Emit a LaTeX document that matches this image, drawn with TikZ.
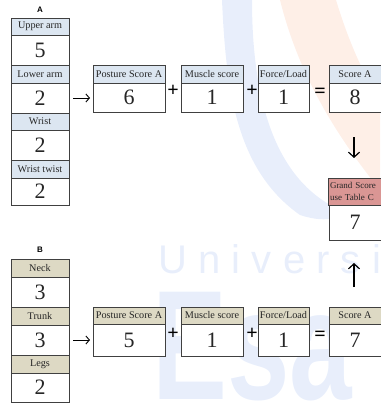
\documentclass[tikz,border=0pt]{standalone}
\usepackage{fontspec}
\setmainfont{Liberation Serif}
\setsansfont{Liberation Sans}
\usetikzlibrary{arrows.meta}

\definecolor{hdrblue}{HTML}{DCE6F1}
\definecolor{hdrtan}{HTML}{DDD9C4}
\definecolor{hdrrose}{HTML}{DA9694}
\definecolor{gridline}{HTML}{404040}
\definecolor{marklogo}{HTML}{3F74E0}
\definecolor{marksun}{HTML}{F47A3C}

% cell from corner (x1,y1) to (x2,y2): name, x1, y1, x2, y2, style, text
\newcommand\mkcell[7]{%
  \pgfmathsetmacro\mcX{(#2+#4)/2}\pgfmathsetmacro\mcY{(#3+#5)/2}%
  \pgfmathsetmacro\mcW{#4-#2}\pgfmathsetmacro\mcH{#5-#3}%
  \node[#6,minimum width=\mcW pt,minimum height=\mcH pt] (#1) at (\mcX,\mcY) {#7};}

\begin{document}
\begin{tikzpicture}[x=1pt,y=-1pt,
  cell/.style={draw=gridline,line width=0.8pt,inner sep=0pt,outer sep=0pt,text=black!85},
  hdr/.style={cell,font=\fontsize{10.2}{10.2}\selectfont},
  hdra/.style={hdr,fill=hdrblue},
  hdrb/.style={hdr,fill=hdrtan},
  val/.style={cell,fill=white,font=\fontsize{22}{22}\selectfont},
  colhead/.style={font=\sffamily\bfseries\fontsize{8}{8}\selectfont},
  op/.style={font=\bfseries\fontsize{20}{20}\selectfont,inner sep=0pt},
  arr/.style={-{Straight Barb[length=3.5pt,width=8pt]},line width=0.9pt},
  varr/.style={-{Straight Barb[length=5pt,width=11pt]},line width=1.2pt}]
\useasboundingbox (0,0) rectangle (380,404);

% faint watermark behind the sheet
\begin{scope}[opacity=0.12]
  \fill[marklogo] (222,0) .. controls (226,90) and (236,170) .. (300,215)
        .. controls (330,225) and (345,215) .. (340,210)
        .. controls (285,185) and (252,120) .. (252,0) -- cycle;
  \fill[marksun] (280,0) .. controls (300,80) and (340,140) .. (380,190)
        -- (380,100) .. controls (360,70) and (345,30) .. (336,0) -- cycle;
  \node[text=marklogo,font=\sffamily\fontsize{40}{40}\selectfont\addfontfeature{LetterSpace=28},anchor=base west,inner sep=0pt] (wmA) at (158,273) {Universi};
  \node[text=marklogo,font=\sffamily\bfseries\fontsize{156}{156}\selectfont,anchor=base west,inner sep=0pt,text depth=0pt,xscale=0.72] (wmB) at (152,399) {Esa};
\end{scope}

% column A: arm and wrist
\node[colhead] (labA) at (40,10) {A};
\mkcell{ua}{11}{18}{69}{35}{hdra}{Upper arm}
\mkcell{uav}{11}{35}{69}{65}{val}{5}
\mkcell{la}{11}{65}{69}{83}{hdra}{Lower arm}
\mkcell{lav}{11}{83}{69}{113}{val}{2}
\mkcell{wr}{11}{113}{69}{130}{hdra}{Wrist}
\mkcell{wrv}{11}{130}{69}{160}{val}{2}
\mkcell{wt}{11}{160}{69}{178}{hdra}{Wrist twist}
\mkcell{wtv}{11}{178}{69}{205}{val}{2}

% column B: neck, trunk and legs
\node[colhead] (labB) at (40,250) {B};
\mkcell{nk}{11}{259}{69}{277}{hdrb}{Neck}
\mkcell{nkv}{11}{277}{69}{307}{val}{3}
\mkcell{tr}{11}{307}{69}{325}{hdrb}{Trunk}
\mkcell{trv}{11}{325}{69}{355}{val}{3}
\mkcell{lg}{11}{355}{69}{373}{hdrb}{Legs}
\mkcell{lgv}{11}{373}{69}{402}{val}{2}

% row A: posture + muscle + force = score
\mkcell{psa}{93}{65}{165}{83}{hdra}{Posture Score A}
\mkcell{psav}{93}{83}{165}{112}{val}{6}
\mkcell{msa}{181}{65}{243}{83}{hdra}{Muscle score}
\mkcell{msav}{181}{83}{243}{112}{val}{1}
\mkcell{fla}{258}{65}{309}{83}{hdra}{Force/Load}
\mkcell{flav}{258}{83}{309}{112}{val}{1}
\mkcell{sca}{329}{65}{381}{83}{hdra}{Score A}
\mkcell{scav}{329}{83}{381}{112}{val}{8}

% row B
\mkcell{psb}{93}{307}{165}{324}{hdrb}{Posture Score A}
\mkcell{psbv}{93}{324}{165}{356}{val}{5}
\mkcell{msb}{181}{307}{243}{324}{hdrb}{Muscle score}
\mkcell{msbv}{181}{324}{243}{356}{val}{1}
\mkcell{flb}{258}{307}{309}{324}{hdrb}{Force/Load}
\mkcell{flbv}{258}{324}{309}{356}{val}{1}
\mkcell{scb}{329}{307}{381}{324}{hdrb}{Score A}
\mkcell{scbv}{329}{324}{381}{356}{val}{7}

% grand score
\mkcell{gs}{329}{178}{381}{205}{hdr,fill=hdrrose,font=\fontsize{9}{12}\selectfont,align=left,text width=50pt,inner xsep=1.5pt}{Grand Score\\use Table C}
\mkcell{gsv}{329}{205}{381}{240}{val}{7}

% operators
\node[op] (pa1) at (173,91) {+};
\node[op] (pa2) at (252,91) {+};
\node[op] (ea)  at (320,93) {=};
\node[op] (pb1) at (173,334) {+};
\node[op] (pb2) at (252,334) {+};
\node[op] (eb)  at (320,336) {=};

% connectors
\draw[arr,shorten <=4pt,shorten >=3pt] (lav.east) -- (lav.east -| psav.west);
\draw[arr,shorten <=4pt,shorten >=3pt] (trv.east) -- (trv.east -| psbv.west);
\draw[varr,shorten <=25pt,shorten >=20pt] (scav.south) ++(-1,0) coordinate (dA) -- (dA |- gs.north);
\draw[varr,shorten <=20pt,shorten >=23pt] (scb.north) ++(-1,0) coordinate (dB) -- (dB |- gsv.south);
\end{tikzpicture}
\end{document}
